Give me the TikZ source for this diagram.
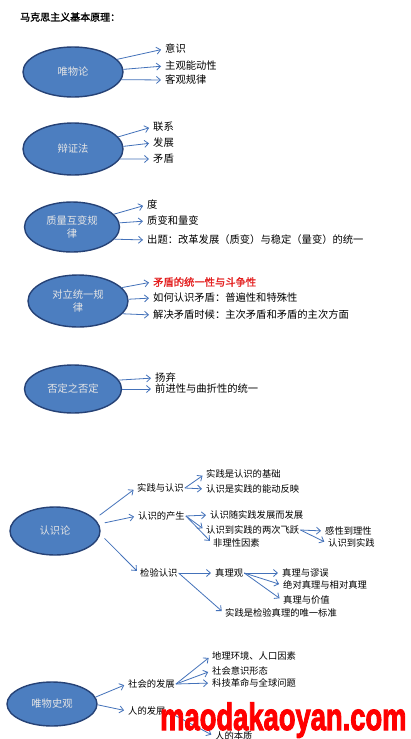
\documentclass[tikz,border=0pt]{standalone}
\usepackage{fontspec}
\setmainfont{Liberation Sans}
\newfontfamily\cjk{Noto Sans CJK SC}
\newfontfamily\cjkbold[FakeBold=1.5]{Noto Sans CJK SC}
\newfontfamily\markfont[FakeBold=3]{Liberation Sans}
\usetikzlibrary{arrows.meta,positioning,shapes.geometric}
\definecolor{ovalblue}{RGB}{76,126,192}
\definecolor{ovalrim}{RGB}{38,66,118}
\definecolor{linkblue}{RGB}{68,114,186}
\definecolor{hotred}{RGB}{228,32,32}
\definecolor{markred}{RGB}{255,0,0}

\begin{document}
\begin{tikzpicture}[x=1pt,y=-1pt,>={Straight Barb[length=4pt,width=7pt]},
    topic/.style={ellipse,draw=ovalrim,line width=1.4pt,fill=ovalblue,text=white!90!black,
      inner sep=0pt,align=center,font=\cjk\fontsize{10.3}{12.5}\selectfont},
    leaf/.style={anchor=west,inner sep=1pt,font=\cjk\fontsize{10.3}{12}\selectfont},
    minor/.style={anchor=west,inner sep=1pt,font=\cjk\fontsize{9.3}{11}\selectfont},
    link/.style={->,linkblue,line width=0.8pt,shorten >=3pt}]
  \clip (0,0) rectangle (410,739);
  \fill[white] (0,0) rectangle (410,739);
  \node[anchor=west,inner sep=1pt,font=\cjkbold\fontsize{10}{12}\selectfont] (title) at (19,17) {马克思主义基本原理：};

  % 唯物论
  \node[topic,minimum width=100pt,minimum height=50pt] (e1) at (73,72) {唯物论};
  \node[leaf] (n1a) at (164,49) {意识};
  \node[leaf] (n1b) at (164,66) {主观能动性};
  \node[leaf] (n1c) at (164,80) {客观规律};
  \draw[link] (e1.16) -- (n1a.west);
  \draw[link] (e1.3) -- (n1b.west);
  \draw[link] (e1.-9) -- (n1c.west);

  % 辩证法
  \node[topic,minimum width=100pt,minimum height=52pt] (e2) at (73,149) {辩证法};
  \node[leaf] (n2a) at (152,127) {联系};
  \node[leaf] (n2b) at (152,143) {发展};
  \node[leaf] (n2c) at (152,159) {矛盾};
  \draw[link] (e2.15) -- (n2a.west);
  \draw[link] (e2.3) -- (n2b.west);
  \draw[link] (e2.-12) -- (n2c.west);

  % 质量互变规律
  \node[topic,minimum width=95pt,minimum height=50pt] (e3) at (72,227) {质量互变规\\律};
  \node[leaf] (n3a) at (146,205) {度};
  \node[leaf] (n3b) at (146,221) {质变和量变};
  \node[leaf] (n3c) at (146,240) {出题：改革发展（质变）与稳定（量变）的统一};
  \draw[link] (e3.17) -- (n3a.west);
  \draw[link] (e3.5) -- (n3b.west);
  \draw[link] (e3.-16) -- (n3c.west);

  % 对立统一规律
  \node[topic,minimum width=100pt,minimum height=52pt] (e4) at (78,301) {对立统一规\\律};
  \node[leaf,text=hotred,font=\cjkbold\fontsize{10.3}{12}\selectfont] (n4a) at (152,282) {矛盾的统一性与斗争性};
  \node[leaf] (n4b) at (152,298) {如何认识矛盾：普遍性和特殊性};
  \node[leaf] (n4c) at (152,315) {解决矛盾时候：主次矛盾和矛盾的主次方面};
  \draw[link] (e4.17) -- (n4a.west);
  \draw[link] (e4.2) -- (n4b.west);
  \draw[link] (e4.-16) -- (n4c.west);

  % 否定之否定
  \node[topic,minimum width=97pt,minimum height=48pt] (e5) at (73,389) {否定之否定};
  \node[leaf] (n5a) at (154,378) {扬弃};
  \node[leaf] (n5b) at (154,389) {前进性与曲折性的统一};
  \draw[link] (e5.11) -- (n5a.west);
  \draw[link] (e5.0) -- (n5b.west);

  % 认识论
  \node[topic,minimum width=90pt,minimum height=48pt] (e6) at (55,531) {认识论};
  \node[minor] (s1) at (136,488) {实践与认识};
  \node[minor] (s2) at (137,516) {认识的产生};
  \node[minor] (s3) at (139,573) {检验认识};
  \draw[link,shorten <=6pt] (e6.17) -- (s1.west);
  \draw[link,shorten <=6pt] (e6.9) -- (s2.west);
  \draw[link,shorten <=6pt] (e6.-4) -- (s3.west);
  \node[minor] (t1) at (205,474) {实践是认识的基础};
  \node[minor] (t2) at (205,489) {认识是实践的能动反映};
  \draw[link] (s1.east) -- (t1.west);
  \draw[link] (s1.east) -- (t2.west);
  \node[minor] (t3) at (209,515) {认识随实践发展而发展};
  \node[minor] (t4) at (205,530) {认识到实践的两次飞跃};
  \node[minor] (t5) at (212,543) {非理性因素};
  \draw[link] (s2.east) -- (t3.west);
  \draw[link] (s2.east) -- (t4.west);
  \draw[link] (s2.east) -- (t5.west);
  \node[minor] (u1) at (324,531) {感性到理性};
  \node[minor] (u2) at (327,543) {认识到实践};
  \draw[link] (t4.east) -- (u1.west);
  \draw[link] (t4.east) -- (u2.west);
  \node[minor] (t6) at (214,573) {真理观};
  \node[minor] (t7) at (224,613) {实践是检验真理的唯一标准};
  \draw[link] (s3.east) -- (t6.west);
  \draw[link] (s3.east) -- (t7.west);
  \node[minor] (v1) at (281,573) {真理与谬误};
  \node[minor] (v2) at (282,585) {绝对真理与相对真理};
  \node[minor] (v3) at (282,600) {真理与价值};
  \draw[link] (t6.east) -- (v1.west);
  \draw[link] (t6.east) -- (v2.west);
  \draw[link] (t6.east) -- (v3.west);

  % 唯物史观
  \node[topic,minimum width=90pt,minimum height=44pt] (e7) at (52,704) {唯物史观};
  \node[minor] (w1) at (127,684) {社会的发展};
  \node[minor] (w2) at (127,711) {人的发展};
  \draw[link] (e7.9) -- (w1.west);
  \draw[link] (e7.-1) -- (w2.west);
  \node[minor] (x1) at (211,656) {地理环境、人口因素};
  \node[minor] (x2) at (211,671) {社会意识形态};
  \node[minor] (x3) at (211,683) {科技革命与全球问题};
  \draw[link] (w1.east) -- (x1.west);
  \draw[link] (w1.east) -- (x2.west);
  \draw[link] (w1.east) -- (x3.west);
  \node[minor] (x4) at (214,736) {人的本质};
  \draw[link] (w2.east) -- (x4.west);

  \node[anchor=base west,inner sep=0pt,text=markred,font=\markfont\bfseries\fontsize{38}{40}\selectfont] (mark) at (160,730) {\scalebox{0.72}[1]{maodakaoyan.com}};
\end{tikzpicture}
\end{document}
